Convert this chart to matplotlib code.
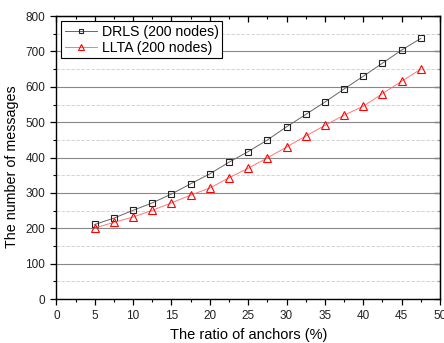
import numpy as np
import matplotlib
matplotlib.use("Agg")
import matplotlib.pyplot as plt
from matplotlib.ticker import MultipleLocator

plt.rcParams["font.family"] = ["Liberation Sans", "DejaVu Sans"]

# data
ratio = [5, 7.5, 10, 12.5, 15, 17.5, 20, 22.5, 25, 27.5, 30, 32.5, 35, 37.5, 40, 42.5, 45, 47.5]
drls = [211, 229, 251, 272, 297, 326, 354, 387, 417, 450, 487, 522, 557, 594, 630, 667, 704, 737]
llta = [201, 217, 232, 251, 272, 294, 314, 343, 370, 399, 430, 461, 491, 520, 545, 581, 616, 650]

fig = plt.figure(figsize=(4.44, 3.43), dpi=100)
ax = fig.add_axes([0.127, 0.128, 0.864, 0.825])

ax.plot(ratio, drls, color="#666666", lw=0.7, marker="s", ms=4.8,
        mfc="none", mec="#222222", mew=0.8, label="DRLS (200 nodes)", zorder=3)
ax.plot(ratio, llta, color="#ff7777", lw=0.7, marker="^", ms=6.2,
        mfc="none", mec="red", mew=0.8, label="LLTA (200 nodes)", zorder=3)

ax.set_xlim(0, 50)
ax.set_ylim(0, 800)
ax.xaxis.set_major_locator(MultipleLocator(5))
ax.xaxis.set_minor_locator(MultipleLocator(2.5))
ax.yaxis.set_major_locator(MultipleLocator(100))
ax.yaxis.set_minor_locator(MultipleLocator(50))

ax.grid(which="major", axis="y", color="#888888", lw=0.8, ls="-")
ax.grid(which="minor", axis="y", color="#cccccc", lw=0.6, ls=(0, (4, 2)))
ax.set_axisbelow(True)

ax.tick_params(which="both", direction="out", top=False, right=False,
               labelsize=8.5, labelcolor="#222222")
ax.tick_params(which="major", length=4.5, width=0.9)
ax.tick_params(which="minor", length=2.5, width=0.8)

# inward ticks on the top and right edges
sec_x = ax.secondary_xaxis("top")
sec_x.xaxis.set_major_locator(MultipleLocator(5))
sec_x.xaxis.set_minor_locator(MultipleLocator(2.5))
sec_x.tick_params(which="both", direction="in", labeltop=False)
sec_x.tick_params(which="major", length=4, width=0.9)
sec_x.tick_params(which="minor", length=2.5, width=0.8)
sec_y = ax.secondary_yaxis("right")
sec_y.yaxis.set_major_locator(MultipleLocator(100))
sec_y.yaxis.set_minor_locator(MultipleLocator(50))
sec_y.tick_params(which="both", direction="in", labelright=False)
sec_y.tick_params(which="major", length=4, width=0.9)
sec_y.tick_params(which="minor", length=2.5, width=0.8)

for s in ax.spines.values():
    s.set_linewidth(1.0)

ax.set_xlabel("The ratio of anchors (%)", fontsize=10.5, labelpad=4)
ax.set_ylabel("The number of messages", fontsize=10.3)
ax.yaxis.set_label_coords(-0.097, 0.467)

leg = ax.legend(loc="upper left", fontsize=10.2, frameon=True, fancybox=False,
                edgecolor="black", framealpha=1, borderpad=0.25,
                handlelength=2.3, handletextpad=0.3, labelspacing=0.15,
                borderaxespad=0.35, markerscale=0.75)
leg.get_frame().set_linewidth(0.8)

fig.savefig("out.png", dpi=100)
